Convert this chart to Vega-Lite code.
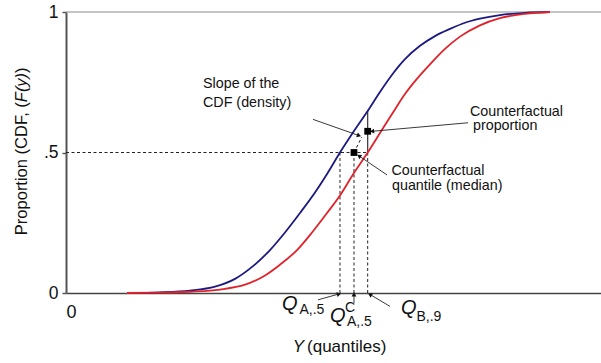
{
  "$schema": "https://vega.github.io/schema/vega-lite/v6.json",
  "width": 535,
  "height": 281,
  "autosize": {"type": "none"},
  "padding": {"left": 66, "top": 12, "right": 0, "bottom": 70},
  "config": {
    "view": {"stroke": null},
    "font": "Liberation Sans",
    "text": {"font": "Liberation Sans", "color": "#111"}
  },
  "datasets": {
    "cdf": [
      {"group": "A", "q": 11.40, "p": 0},
      {"group": "A", "q": 17.57, "p": 0.0024},
      {"group": "A", "q": 23.18, "p": 0.0087},
      {"group": "A", "q": 27.85, "p": 0.0226},
      {"group": "A", "q": 31.59, "p": 0.0503},
      {"group": "A", "q": 34.95, "p": 0.0955},
      {"group": "A", "q": 38.13, "p": 0.1528},
      {"group": "A", "q": 40.93, "p": 0.2153},
      {"group": "A", "q": 43.74, "p": 0.2847},
      {"group": "A", "q": 46.54, "p": 0.3576},
      {"group": "A", "q": 48.79, "p": 0.4236},
      {"group": "A", "q": 51.21, "p": 0.5},
      {"group": "A", "q": 53.83, "p": 0.5766},
      {"group": "A", "q": 56.45, "p": 0.6496},
      {"group": "A", "q": 58.69, "p": 0.7153},
      {"group": "A", "q": 61.12, "p": 0.7810},
      {"group": "A", "q": 63.36, "p": 0.8321},
      {"group": "A", "q": 66.17, "p": 0.8796},
      {"group": "A", "q": 68.97, "p": 0.9142},
      {"group": "A", "q": 71.78, "p": 0.9398},
      {"group": "A", "q": 74.58, "p": 0.9617},
      {"group": "A", "q": 77.38, "p": 0.9763},
      {"group": "A", "q": 81.12, "p": 0.9891},
      {"group": "A", "q": 85.79, "p": 0.9971},
      {"group": "A", "q": 90.47, "p": 1.0},
      {"group": "B", "q": 11.40, "p": 0},
      {"group": "B", "q": 17.57, "p": 0.001},
      {"group": "B", "q": 23.18, "p": 0.0045},
      {"group": "B", "q": 28.79, "p": 0.0122},
      {"group": "B", "q": 33.46, "p": 0.0295},
      {"group": "B", "q": 37.20, "p": 0.0625},
      {"group": "B", "q": 40.00, "p": 0.1007},
      {"group": "B", "q": 43.18, "p": 0.1528},
      {"group": "B", "q": 45.98, "p": 0.2153},
      {"group": "B", "q": 48.79, "p": 0.2847},
      {"group": "B", "q": 51.21, "p": 0.3472},
      {"group": "B", "q": 53.64, "p": 0.4219},
      {"group": "B", "q": 56.39, "p": 0.5},
      {"group": "B", "q": 58.69, "p": 0.5693},
      {"group": "B", "q": 61.12, "p": 0.6423},
      {"group": "B", "q": 63.36, "p": 0.7080},
      {"group": "B", "q": 65.79, "p": 0.7664},
      {"group": "B", "q": 68.04, "p": 0.8139},
      {"group": "B", "q": 70.84, "p": 0.8686},
      {"group": "B", "q": 73.64, "p": 0.9124},
      {"group": "B", "q": 77.38, "p": 0.9526},
      {"group": "B", "q": 81.12, "p": 0.9781},
      {"group": "B", "q": 85.79, "p": 0.9934},
      {"group": "B", "q": 90.47, "p": 1.0}
    ],
    "guides": [
      {"kind": "dash", "x": 0, "y": 0.5, "x2": 56.39, "y2": 0.5},
      {"kind": "dash", "x": 51.21, "y": 0, "x2": 51.21, "y2": 0.5},
      {"kind": "dash", "x": 53.83, "y": 0, "x2": 53.83, "y2": 0.5},
      {"kind": "dash", "x": 56.39, "y": 0, "x2": 56.39, "y2": 0.5},
      {"kind": "dash", "x": 53.83, "y": 0.5, "x2": 55.3, "y2": 0.555},
      {"kind": "solid", "x": 56.39, "y": 0.5, "x2": 56.39, "y2": 0.65}
    ],
    "markers": [
      {"q": 53.83, "p": 0.5},
      {"q": 56.39, "p": 0.5755}
    ],
    "arrows": [
      {"x": 46.17, "y": 0.6179, "x2": 54.77, "y2": 0.5602},
      {"x": 75.14, "y": 0.6058, "x2": 57.20, "y2": 0.5755},
      {"x": 60.00, "y": 0.4201, "x2": 54.77, "y2": 0.4878},
      {"x": 47.10, "y": -0.0243, "x2": 51.03, "y2": -0.0035},
      {"x": 53.83, "y": -0.0365, "x2": 53.83, "y2": -0.0052},
      {"x": 60.56, "y": -0.0476, "x2": 56.82, "y2": -0.0052}
    ],
    "labels": [
      {"kind": "note", "x": 25.61, "y": 0.7281, "text": "Slope of the"},
      {"kind": "note", "x": 25.61, "y": 0.6624, "text": "CDF (density)"},
      {"kind": "note", "x": 75.51, "y": 0.6314, "text": "Counterfactual"},
      {"kind": "note", "x": 76.07, "y": 0.5785, "text": "proportion"},
      {"kind": "note", "x": 60.84, "y": 0.4201, "text": "Counterfactual"},
      {"kind": "note", "x": 60.93, "y": 0.3663, "text": "quantile (median)"},
      {"kind": "Q", "x": 40.37, "y": -0.059, "text": "Q"},
      {"kind": "sub", "x": 43.64, "y": -0.0764, "text": "A,.5"},
      {"kind": "Q", "x": 49.35, "y": -0.1042, "text": "Q"},
      {"kind": "sub", "x": 52.15, "y": -0.066, "text": "C"},
      {"kind": "sub", "x": 52.52, "y": -0.118, "text": "A,.5"},
      {"kind": "Q", "x": 62.62, "y": -0.0764, "text": "Q"},
      {"kind": "sub", "x": 65.51, "y": -0.0997, "text": "B,.9"},
      {"kind": "xtitleItalic", "x": 44.49, "y": -0.2083, "text": "Y"},
      {"kind": "xtitle", "x": 45.05, "y": -0.2083, "text": "(quantiles)"},
      {"kind": "ytitleHead", "x": -8.22, "y": 0.679, "text": "Proportion (CDF, ("},
      {"kind": "ytitleItalic", "x": -8.22, "y": 0.679, "text": "F(y)"},
      {"kind": "ytitleTail", "x": -8.22, "y": 0.7833, "text": ")"}
    ]
  },
  "layer": [
    {
      "data": {"values": [{"x": 0, "x2": 100, "y": 1}]},
      "mark": {"type": "rule", "color": "#8a8a8a", "strokeWidth": 1},
      "encoding": {
        "x": {"field": "x", "type": "quantitative", "scale": {"domain": [0, 100], "nice": false, "zero": false},
          "axis": {"values": [0], "title": null, "grid": false, "tickSize": 0, "labelPadding": 10, "labelFontSize": 18, "labelColor": "#111", "labelFont": "Liberation Sans", "domainColor": "#444", "domainWidth": 1.5}},
        "x2": {"field": "x2"},
        "y": {"field": "y", "type": "quantitative", "scale": {"domain": [0, 1], "nice": false},
          "axis": {"values": [0, 0.5, 1], "labelExpr": "datum.value == 0 ? '0' : datum.value == 1 ? '1' : '.5'", "title": null, "grid": false, "tickSize": 4, "tickColor": "#555", "tickWidth": 1.5, "labelPadding": 4, "labelFontSize": 17.5, "labelColor": "#111", "labelFont": "Liberation Sans", "domainColor": "#555", "domainWidth": 2}}
      }
    },
    {
      "data": {"name": "guides"},
      "transform": [{"filter": "datum.kind == 'dash'"}],
      "mark": {"type": "rule", "color": "#222", "strokeWidth": 1, "strokeDash": [3, 2.5]},
      "encoding": {
        "x": {"field": "x", "type": "quantitative"},
        "x2": {"field": "x2"},
        "y": {"field": "y", "type": "quantitative"},
        "y2": {"field": "y2"}
      }
    },
    {
      "data": {"name": "guides"},
      "transform": [{"filter": "datum.kind == 'solid'"}],
      "mark": {"type": "rule", "color": "#333", "strokeWidth": 1.2},
      "encoding": {
        "x": {"field": "x", "type": "quantitative"},
        "x2": {"field": "x2"},
        "y": {"field": "y", "type": "quantitative"},
        "y2": {"field": "y2"}
      }
    },
    {
      "data": {"name": "cdf"},
      "mark": {"type": "line", "strokeWidth": 1.8, "interpolate": "monotone"},
      "encoding": {
        "x": {"field": "q", "type": "quantitative"},
        "y": {"field": "p", "type": "quantitative"},
        "color": {"field": "group", "type": "nominal", "scale": {"domain": ["A", "B"], "range": ["#1c1a80", "#e0222b"]}, "legend": null}
      }
    },
    {
      "data": {"name": "arrows"},
      "mark": {"type": "rule", "color": "#222", "strokeWidth": 0.9},
      "encoding": {
        "x": {"field": "x", "type": "quantitative"},
        "x2": {"field": "x2"},
        "y": {"field": "y", "type": "quantitative"},
        "y2": {"field": "y2"}
      }
    },
    {
      "data": {"name": "arrows"},
      "transform": [
        {"calculate": "atan2((datum.x2 - datum.x) * 5.35, (datum.y2 - datum.y) * 281) * 180 / PI", "as": "heading"}
      ],
      "mark": {"type": "point", "shape": "triangle-up", "filled": true, "color": "#111", "opacity": 1, "size": 24},
      "encoding": {
        "x": {"field": "x2", "type": "quantitative"},
        "y": {"field": "y2", "type": "quantitative"},
        "angle": {"field": "heading", "type": "quantitative", "scale": null}
      }
    },
    {
      "data": {"name": "markers"},
      "mark": {"type": "point", "shape": "square", "filled": true, "color": "#000", "opacity": 1, "size": 46},
      "encoding": {
        "x": {"field": "q", "type": "quantitative"},
        "y": {"field": "p", "type": "quantitative"}
      }
    },
    {
      "data": {"name": "labels"},
      "transform": [{"filter": "datum.kind == 'note'"}],
      "mark": {"type": "text", "fontSize": 14.3, "align": "left", "baseline": "alphabetic"},
      "encoding": {
        "x": {"field": "x", "type": "quantitative"},
        "y": {"field": "y", "type": "quantitative"},
        "text": {"field": "text"}
      }
    },
    {
      "data": {"name": "labels"},
      "transform": [{"filter": "datum.kind == 'Q'"}],
      "mark": {"type": "text", "fontSize": 20, "fontStyle": "italic", "align": "left", "baseline": "alphabetic"},
      "encoding": {
        "x": {"field": "x", "type": "quantitative"},
        "y": {"field": "y", "type": "quantitative"},
        "text": {"field": "text"}
      }
    },
    {
      "data": {"name": "labels"},
      "transform": [{"filter": "datum.kind == 'sub'"}],
      "mark": {"type": "text", "fontSize": 14, "align": "left", "baseline": "alphabetic"},
      "encoding": {
        "x": {"field": "x", "type": "quantitative"},
        "y": {"field": "y", "type": "quantitative"},
        "text": {"field": "text"}
      }
    },
    {
      "data": {"name": "labels"},
      "transform": [{"filter": "datum.kind == 'xtitleItalic'"}],
      "mark": {"type": "text", "fontSize": 17, "fontStyle": "italic", "align": "right", "baseline": "alphabetic"},
      "encoding": {
        "x": {"field": "x", "type": "quantitative"},
        "y": {"field": "y", "type": "quantitative"},
        "text": {"field": "text"}
      }
    },
    {
      "data": {"name": "labels"},
      "transform": [{"filter": "datum.kind == 'xtitle'"}],
      "mark": {"type": "text", "fontSize": 17, "align": "left", "baseline": "alphabetic"},
      "encoding": {
        "x": {"field": "x", "type": "quantitative"},
        "y": {"field": "y", "type": "quantitative"},
        "text": {"field": "text"}
      }
    },
    {
      "data": {"name": "labels"},
      "transform": [{"filter": "datum.kind == 'ytitleHead'"}],
      "mark": {"type": "text", "fontSize": 16.5, "angle": 270, "align": "right", "baseline": "middle"},
      "encoding": {
        "x": {"field": "x", "type": "quantitative"},
        "y": {"field": "y", "type": "quantitative"},
        "text": {"field": "text"}
      }
    },
    {
      "data": {"name": "labels"},
      "transform": [{"filter": "datum.kind == 'ytitleItalic'"}],
      "mark": {"type": "text", "fontSize": 16.5, "fontStyle": "italic", "angle": 270, "align": "left", "baseline": "middle"},
      "encoding": {
        "x": {"field": "x", "type": "quantitative"},
        "y": {"field": "y", "type": "quantitative"},
        "text": {"field": "text"}
      }
    },
    {
      "data": {"name": "labels"},
      "transform": [{"filter": "datum.kind == 'ytitleTail'"}],
      "mark": {"type": "text", "fontSize": 16.5, "angle": 270, "align": "left", "baseline": "middle"},
      "encoding": {
        "x": {"field": "x", "type": "quantitative"},
        "y": {"field": "y", "type": "quantitative"},
        "text": {"field": "text"}
      }
    }
  ]
}
